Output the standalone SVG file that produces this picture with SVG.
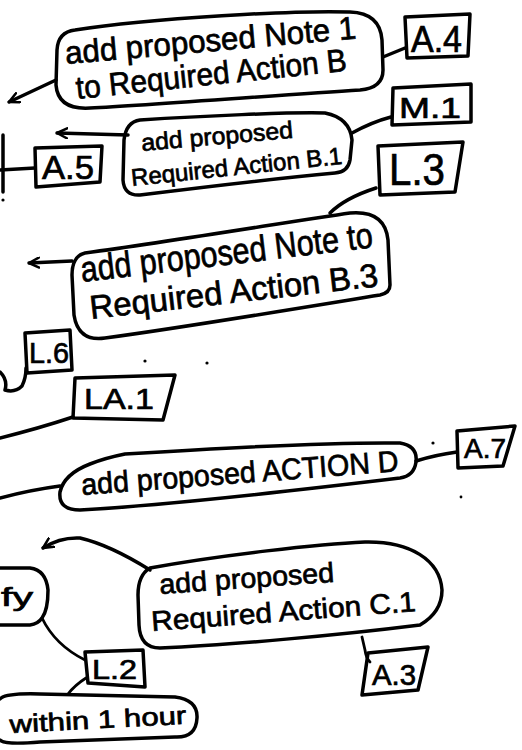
<svg xmlns="http://www.w3.org/2000/svg" width="522" height="750" viewBox="0 0 522 750">
  <style>
    .ink { fill: none; stroke: #000; stroke-width: 3.5; stroke-linecap: round; stroke-linejoin: round; }
    .thin { fill: none; stroke: #000; stroke-width: 2.8; stroke-linecap: round; stroke-linejoin: round; }
    .txt { font-family: "Liberation Sans", Arial, sans-serif; fill: #000; stroke: #000; stroke-width: 0.7; }
    .dot { fill: #000; }
  </style>
  <defs>
    <marker id="arr" viewBox="0 0 12 12" refX="11" refY="6" markerWidth="12" markerHeight="12" orient="auto" markerUnits="userSpaceOnUse">
      <path d="M 1,1 L 11,6 L 1,11" fill="none" stroke="#000" stroke-width="2.5" stroke-linecap="round" stroke-linejoin="round"/>
    </marker>
  </defs>
  <rect width="522" height="750" fill="#fff"/>

  <!-- connectors -->
  <g id="connectors">
    <path class="ink" d="M 56,80 L 9,102" marker-end="url(#arr)"/>
    <path class="ink" d="M 383,57 L 405,48"/>
    <path class="ink" d="M 391,117 Q 372,122 352,133"/>
    <path class="ink" d="M 128,135 L 57,133" marker-end="url(#arr)"/>
    <path class="ink" d="M 0,170 L 35,168"/>
    <path class="ink" d="M 3,135 L 3,192"/>
    <path class="ink" d="M 376,188 Q 345,198 330,213"/>
    <path class="ink" d="M 72,261 L 29,263" marker-end="url(#arr)"/>
    <path class="ink" d="M 0,372 Q 8,380 5,390 Q 15,393 22,386 Q 26,378 26,368"/>
    <path class="ink" d="M 73,417 Q 40,428 0,438"/>
    <path class="ink" d="M 416,461 Q 435,455 457,452"/>
    <path class="ink" d="M 60,486 Q 30,490 0,498"/>
    <path class="ink" d="M 150,570 Q 110,545 80,538 Q 60,537 43,548" marker-end="url(#arr)"/>
    <path class="thin" d="M 42,618 Q 55,645 85,660"/>
    <path class="thin" d="M 86,678 Q 75,685 68,694"/>
    <path class="thin" d="M 362,637 L 365,650 Q 366,658 370,662"/>
  </g>

  <!-- stray pen dots -->
  <circle class="dot" cx="3" cy="200" r="1.6"/>
  <circle class="dot" cx="145" cy="361" r="1.6"/>
  <circle class="dot" cx="207" cy="363" r="1.6"/>
  <circle class="dot" cx="433" cy="443" r="1.6"/>
  <circle class="dot" cx="461" cy="497" r="1.4"/>

  <!-- bubble: note 1 to required action B -->
  <g id="note1-action-b">
    <path class="ink" d="M 75,30 C 150,18 300,10 350,12 Q 380,13 382,40 L 383,70 Q 383,88 360,90 C 280,95 150,105 90,108 Q 58,110 56,85 L 57,50 Q 58,32 75,30 Z"/>
    <text class="txt" x="66" y="64" font-size="32" textLength="292" lengthAdjust="spacingAndGlyphs" transform="rotate(-5 66 64)">add proposed Note 1</text>
    <text class="txt" x="77" y="99" font-size="32" textLength="272" lengthAdjust="spacingAndGlyphs" transform="rotate(-6 77 99)">to Required Action B</text>
  </g>

  <g id="ref-a4">
    <polygon class="ink" points="405,17 470,14 468,56 407,58"/>
    <text class="txt" x="411" y="52" font-size="37" textLength="51" lengthAdjust="spacingAndGlyphs">A.4</text>
  </g>

  <g id="ref-m1">
    <polygon class="ink" points="393,88 471,84 471,122 392,125"/>
    <text class="txt" x="399" y="118" font-size="30" textLength="62" lengthAdjust="spacingAndGlyphs">M.1</text>
  </g>

  <!-- bubble: required action B.1 -->
  <g id="action-b1">
    <path class="ink" d="M 140,120 C 200,116 290,112 325,113 Q 350,118 352,140 L 350,160 Q 348,172 335,173 C 260,180 180,190 140,195 Q 124,196 123,180 L 124,140 Q 126,122 140,120 Z"/>
    <text class="txt" x="142" y="151" font-size="24" textLength="152" lengthAdjust="spacingAndGlyphs" transform="rotate(-5 142 151)">add proposed</text>
    <text class="txt" x="132" y="186" font-size="24" textLength="212" lengthAdjust="spacingAndGlyphs" transform="rotate(-6 132 186)">Required Action B.1</text>
  </g>

  <g id="ref-a5">
    <polygon class="ink" points="35,148 102,146 100,182 36,187"/>
    <text class="txt" x="42" y="179" font-size="34" textLength="52" lengthAdjust="spacingAndGlyphs">A.5</text>
  </g>

  <g id="ref-l3">
    <polygon class="ink" points="378,146 463,142 455,192 380,195"/>
    <text class="txt" x="389" y="185" font-size="44" textLength="56" lengthAdjust="spacingAndGlyphs">L.3</text>
  </g>

  <!-- bubble: note to required action B.3 -->
  <g id="note-action-b3">
    <path class="ink" d="M 85,253 C 180,240 300,220 350,213 Q 385,210 388,240 L 390,285 Q 390,293 380,295 C 300,308 180,328 105,338 Q 78,342 74,315 L 72,275 Q 72,256 85,253 Z"/>
    <text class="txt" x="82" y="282" font-size="36" textLength="294" lengthAdjust="spacingAndGlyphs" transform="rotate(-6.8 82 282)">add proposed Note to</text>
    <text class="txt" x="91" y="319" font-size="33" textLength="290" lengthAdjust="spacingAndGlyphs" transform="rotate(-6.5 91 319)">Required Action B.3</text>
  </g>

  <g id="ref-l6">
    <polygon class="ink" points="25,333 70,330 72,370 27,373"/>
    <text class="txt" x="29" y="363" font-size="30" textLength="40" lengthAdjust="spacingAndGlyphs">L.6</text>
  </g>

  <g id="ref-la1">
    <polygon class="ink" points="75,378 175,375 163,420 73,418"/>
    <text class="txt" x="84" y="409" font-size="30" textLength="70" lengthAdjust="spacingAndGlyphs">LA.1</text>
  </g>

  <g id="ref-a7">
    <polygon class="ink" points="457,431 515,426 503,466 458,468"/>
    <text class="txt" x="464" y="458" font-size="28" textLength="42" lengthAdjust="spacingAndGlyphs">A.7</text>
  </g>

  <!-- bubble: action D -->
  <g id="action-d">
    <path class="ink" d="M 125,454 C 220,448 330,442 400,443 Q 418,446 416,462 Q 414,476 400,478 C 300,490 170,505 80,510 Q 58,510 60,492 Q 64,474 90,464 Q 105,458 125,454 Z"/>
    <text class="txt" x="82" y="495" font-size="30" textLength="318" lengthAdjust="spacingAndGlyphs" transform="rotate(-4.3 82 495)">add proposed ACTION D</text>
  </g>

  <!-- bubble: required action C.1 -->
  <g id="action-c1">
    <path class="ink" d="M 150,568 C 220,555 320,544 365,542 C 410,541 440,560 442,590 Q 442,612 420,625 C 340,635 230,645 160,648 Q 140,648 139,625 L 138,595 Q 138,575 150,568 Z"/>
    <text class="txt" x="160" y="594" font-size="28" textLength="175" lengthAdjust="spacingAndGlyphs" transform="rotate(-4 160 594)">add proposed</text>
    <text class="txt" x="152" y="631" font-size="28" textLength="265" lengthAdjust="spacingAndGlyphs" transform="rotate(-4.3 152 631)">Required Action C.1</text>
  </g>

  <!-- bubble cut off at the left edge -->
  <g id="notify">
    <path class="ink" d="M 0,568 L 30,568 Q 46,570 48,590 Q 48,610 42,618 Q 38,624 30,625 L 0,625"/>
    <text class="txt" x="1" y="606" font-size="26" textLength="32" lengthAdjust="spacingAndGlyphs">fy</text>
  </g>

  <g id="ref-l2">
    <polygon class="ink" points="85,652 143,650 145,687 88,683"/>
    <text class="txt" x="92" y="679" font-size="27" textLength="45" lengthAdjust="spacingAndGlyphs">L.2</text>
  </g>

  <!-- bubble: within 1 hour -->
  <g id="within-1-hour">
    <path class="ink" d="M 0,699 Q 5,693 40,694 L 175,697 Q 198,700 197,718 Q 196,738 175,737 L 40,742 Q 5,745 0,740"/>
    <text class="txt" x="10" y="733" font-size="25" textLength="177" lengthAdjust="spacingAndGlyphs" transform="rotate(-3 10 733)">within 1 hour</text>
  </g>

  <g id="ref-a3">
    <polygon class="ink" points="368,653 428,647 418,690 362,695"/>
    <text class="txt" x="372" y="685" font-size="30" textLength="44" lengthAdjust="spacingAndGlyphs">A.3</text>
  </g>
</svg>
